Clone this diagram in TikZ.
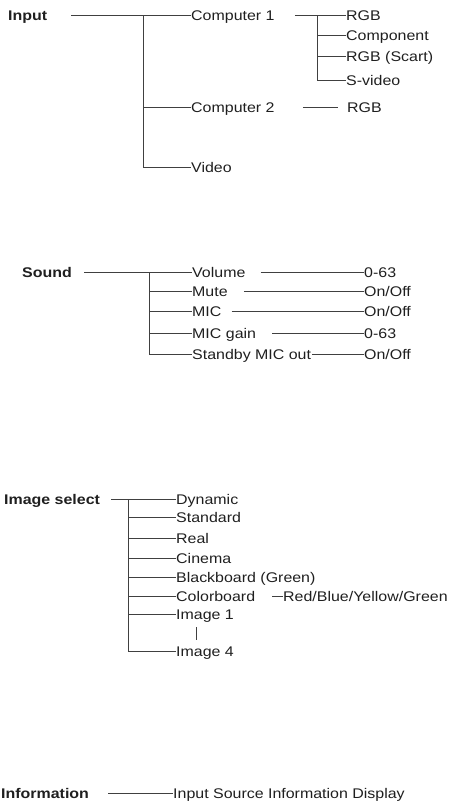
\documentclass[tikz,border=0pt]{standalone}
\usepackage{fontspec}
\setmainfont{Liberation Sans}[FakeStretch=1.14]
\usepackage{tikz}

\begin{document}
\begin{tikzpicture}[x=1pt,y=-1pt,
    every node/.style={inner sep=0pt,anchor=west,text height=10pt,text depth=0pt,
      font=\fontsize{14}{17}\selectfont,text=black!88},
    head/.style={font=\fontsize{14}{17}\selectfont\bfseries},
    link/.style={draw=black!75,line width=1.2pt}]
  \useasboundingbox (0,0) rectangle (449,803);
  % Input
  \node[head] (input) at (8,15.5) {Input};
  \foreach \n/\y/\t in {compA/15.5/Computer 1, compB/107.5/Computer 2, video/167.5/Video}{\node (\n) at (191,\y) {\t};}
  \foreach \n/\y/\t in {rgbA/15.5/RGB, comp/35.5/Component, scart/56.5/RGB (Scart), svid/80.5/S-video}{\node (\n) at (346,\y) {\t};}
  \node (rgbB) at (347,107.5) {RGB};
  \coordinate (inJ) at (143.5,15.5);
  \coordinate (cJ) at (317.5,15.5);
  \draw[link] ([xshift=24pt]input.east) -- (compA.west);
  \draw[link] (inJ) |- (video.west);
  \draw[link] (inJ |- compB.west) -- (compB.west);
  \draw[link] ([xshift=20pt]compA.east) -- (rgbA.west);
  \draw[link] (cJ) |- (svid.west);
  \foreach \n in {comp,scart}{\draw[link] (cJ |- \n.west) -- (\n.west);}
  \draw[link,shorten >=9pt] ([xshift=28pt]compB.east) -- (rgbB.west);
  % Sound
  \node[head] (sound) at (22,272.5) {Sound};
  \coordinate (sJ) at (149.5,272.5);
  \foreach \n/\y/\t/\v/\g in {vol/272.5/Volume/0-63/15, mute/291.5/Mute/{On/Off}/16, mic/311.5/MIC/{On/Off}/10, micg/333.5/MIC gain/0-63/16, stby/354.5/Standby MIC out/{On/Off}/1}{
    \node (\n) at (192,\y) {\t};
    \node (v\n) at (364,\y) {\v};
    \draw[link] ([xshift=\g pt]\n.east) -- (v\n.west);
    \draw[link] (sJ |- \n.west) -- (\n.west);}
  \draw[link] ([xshift=12pt]sound.east) -- (vol.west);
  \draw[link] (sJ) -- (sJ |- stby.west);
  % Image select
  \node[head] (imgsel) at (4,499.5) {Image select};
  \coordinate (iJ) at (128.5,499.5);
  \foreach \n/\y/\t in {dyn/499.5/Dynamic, std/517.5/Standard, real/538.5/Real, cin/558.5/Cinema, bboard/577.5/Blackboard (Green), cboard/596.5/Colorboard, imgA/614.5/Image 1, imgB/651.5/Image 4}{
    \node (\n) at (176,\y) {\t};
    \draw[link] (iJ |- \n.west) -- (\n.west);}
  \draw[link] ([xshift=11pt]imgsel.east) -- (dyn.west);
  \draw[link] (iJ) -- (iJ |- imgB.west);
  \node (rbyg) at (283,596.5) {Red/Blue/Yellow/Green};
  \draw[link] ([xshift=17pt]cboard.east) -- (rbyg.west);
  \draw[link,line width=1pt] ([xshift=20pt,yshift=-7.5pt]imgA.south west) -- ([xshift=20pt,yshift=6pt]imgB.north west);
  % Information
  \node[head] (info) at (1,793.5) {Information};
  \node (isrc) at (173,793.5) {Input Source Information Display};
  \draw[link] ([xshift=19pt]info.east) -- (isrc.west);
\end{tikzpicture}
\end{document}
